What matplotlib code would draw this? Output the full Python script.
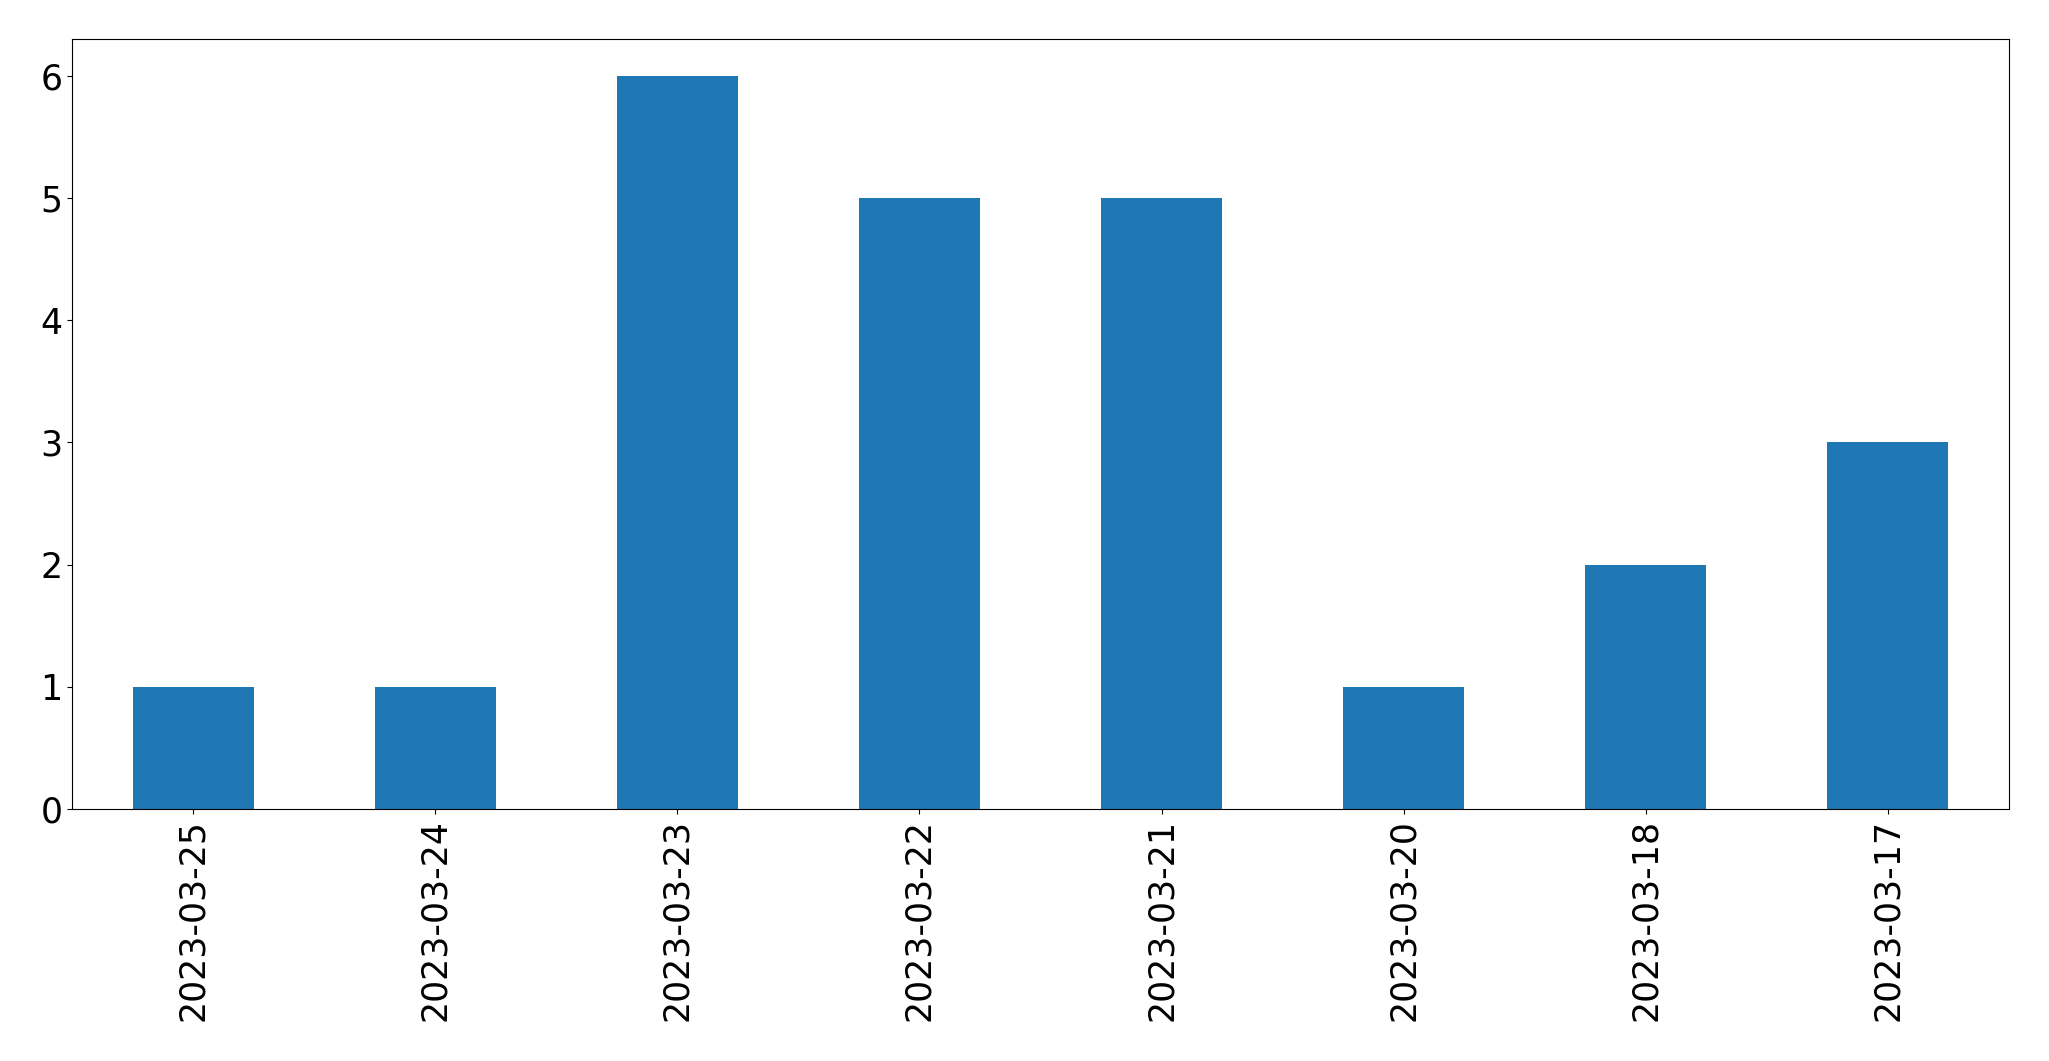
import pandas
from matplotlib import pyplot

dates = ['2023-03-25', '2023-03-24', '2023-03-23', '2023-03-22',
         '2023-03-21', '2023-03-20', '2023-03-18', '2023-03-17']
counts = [1, 1, 6, 5, 5, 1, 2, 3]

series = pandas.Series(counts, index=dates)

fig = pyplot.figure(figsize=(20.49, 10.61), dpi=100)
ax = fig.add_axes([72 / 2049, (1061 - 809) / 1061, (2009 - 72) / 2049, (809 - 39) / 1061])
series.plot(kind='bar', ax=ax, color='#1f77b4')
ax.tick_params(axis='both', labelsize=25)
pyplot.savefig("out.png", dpi=100)
